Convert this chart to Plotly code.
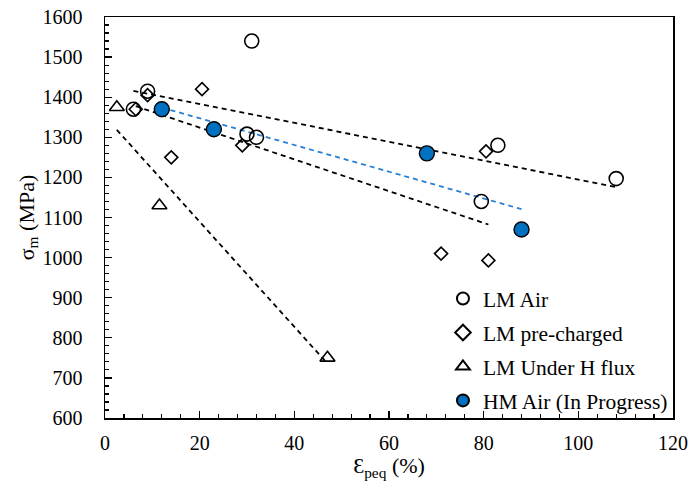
import numpy as np
import plotly.graph_objects as go

# LM Air
lm_air_x = [6, 9, 30, 31, 32, 79.5, 83, 108]
lm_air_y = [1370, 1415, 1308, 1540, 1300, 1140, 1280, 1197]
# LM pre-charged
lm_pre_x = [6.5, 9, 20.5, 14, 29, 71, 81, 80.5]
lm_pre_y = [1370, 1405, 1420, 1250, 1280, 1010, 993, 1265]
# LM Under H flux
lm_h_x = [2.5, 11.5, 47]
lm_h_y = [1375, 1130, 750]
# HM Air (In Progress)
hm_x = [12, 23, 68, 88]
hm_y = [1370, 1320, 1260, 1070]

FONT = "Liberation Serif"
fig = go.Figure()

def trend(xs, ys, color):
    k, b = np.polyfit(xs, ys, 1)
    xr = np.array([min(xs), max(xs)])
    fig.add_trace(go.Scatter(x=xr, y=k * xr + b, mode="lines", showlegend=False,
                             line=dict(color=color, width=1.8, dash="5px,4px"),
                             hoverinfo="skip"))

trend(lm_air_x, lm_air_y, "black")
trend(lm_pre_x, lm_pre_y, "black")
trend(lm_h_x, lm_h_y, "black")
trend(hm_x, hm_y, "#2A7FD4")

fig.add_trace(go.Scatter(x=lm_air_x, y=lm_air_y, mode="markers", name="LM Air",
                         legendgroup="a",
                         marker=dict(symbol="circle-open", size=14, color="black",
                                     line=dict(width=1.6, color="black"))))
fig.add_trace(go.Scatter(x=lm_pre_x, y=lm_pre_y, mode="markers", name="LM pre-charged",
                         legendgroup="b",
                         marker=dict(symbol="diamond-open", size=10, color="black",
                                     line=dict(width=1.6, color="black"))))
fig.add_trace(go.Scatter(x=lm_h_x, y=lm_h_y, mode="markers", name="LM Under H flux",
                         legendgroup="c",
                         marker=dict(symbol="triangle-up-open", size=13, color="black",
                                     line=dict(width=1.6, color="black"))))
fig.add_trace(go.Scatter(x=hm_x, y=hm_y, mode="markers", name="HM Air (In Progress)",
                         legendgroup="d",
                         marker=dict(symbol="circle", size=15, color="#0070C0",
                                     line=dict(width=1.4, color="black"))))

axis_common = dict(showgrid=False, zeroline=False, showline=True, linecolor="black",
                   linewidth=1.5, mirror=True, ticks="inside", tickcolor="black",
                   tickwidth=1.3, ticklen=7, automargin=False,
                   tickfont=dict(family=FONT, size=20, color="black"))

fig.update_xaxes(range=[0, 120], dtick=20, tick0=0,
                 minor=dict(ticks="inside", dtick=4, ticklen=4, tickcolor="black", tickwidth=1.2),
                 title=dict(text="Ɛ<sub>peq</sub> (%)", font=dict(family=FONT, size=22, color="black"),
                            standoff=2),
                 ticklabelstandoff=6, **axis_common)
fig.update_yaxes(range=[600, 1600], dtick=100, tick0=600,
                 minor=dict(ticks="inside", dtick=20, ticklen=4, tickcolor="black", tickwidth=1.2),
                 title=dict(text="σ<sub>m</sub> (MPa)", font=dict(family=FONT, size=22, color="black"),
                            standoff=2),
                 ticklabelstandoff=17, **axis_common)

fig.update_layout(
    width=692, height=493,
    margin=dict(l=105, r=19, t=17, b=75),
    plot_bgcolor="white", paper_bgcolor="white",
    showlegend=True,
    legend=dict(x=0.595, y=0.349, xanchor="left", yanchor="top",
                font=dict(family=FONT, size=21.5, color="black"),
                bgcolor="rgba(255,255,255,0)", tracegroupgap=3,
                itemwidth=30, itemsizing="constant"),
)

fig.write_html("out.html",
               config={"displayModeBar": False, "staticPlot": True},
               post_script="document.body.style.margin='0';document.body.style.overflow='hidden';")
